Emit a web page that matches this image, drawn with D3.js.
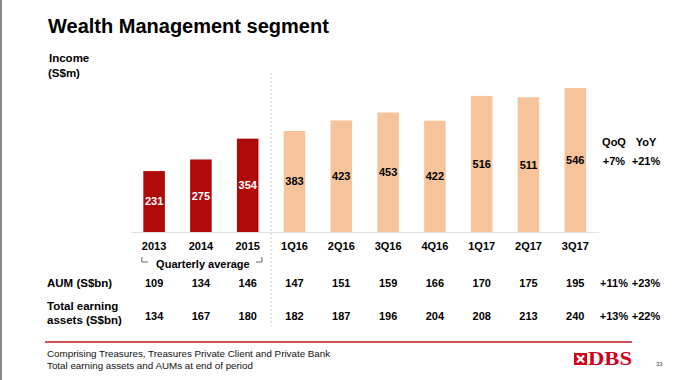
<!DOCTYPE html>
<html><head><meta charset="utf-8">
<script src="https://cdn.jsdelivr.net/npm/d3@7"></script>
<style>
html,body{margin:0;padding:0;background:#fff;}
svg{display:block;font-family:"Liberation Sans",Arial,sans-serif;}
</style></head>
<body>
<svg id="c" width="680" height="380"></svg>
<script>
const categories = ["2013","2014","2015","1Q16","2Q16","3Q16","4Q16","1Q17","2Q17","3Q17"];
const annualCount = 3;
const income = [231,275,354,383,423,453,422,516,511,546];
const aum = [109,134,146,147,151,159,166,170,175,195];
const earningAssets = [134,167,180,182,187,196,204,208,213,240];
const growthHeaders = ["QoQ","YoY"];
const incomeGrowth = ["+7%","+21%"];
const aumGrowth = ["+11%","+23%"];
const assetsGrowth = ["+13%","+22%"];

const svg = d3.select("#c");
const RED = "#AE0A0A", PEACH = "#F6C39A";

// frame edge
svg.append("line").attr("x1",1).attr("x2",1).attr("y1",0).attr("y2",380).attr("stroke","#888").attr("stroke-width",2);

// title
svg.append("text").attr("x",48).attr("y",33).attr("font-size",20).attr("font-weight","bold").attr("fill","#000")
  .text("Wealth Management segment");
svg.append("text").attr("x",49).attr("y",62).attr("font-size",11.5).attr("font-weight","bold").text("Income");
svg.append("text").attr("x",48).attr("y",77).attr("font-size",11.5).attr("font-weight","bold").text("(S$m)");

const x = d3.scaleBand().domain(categories).range([130.7,598.7]).paddingInner(0.54).paddingOuter(0.27);
const y = d3.scaleLinear().domain([0, d3.max(income)]).range([232,88]);

// separator dashed line
const sepX = (x(categories[annualCount-1]) + x.bandwidth() + x(categories[annualCount]))/2;
svg.append("line").attr("x1",sepX).attr("x2",sepX).attr("y1",73).attr("y2",326)
  .attr("stroke","#c8c8c8").attr("stroke-width",1).attr("stroke-dasharray","2,2");

// axis
const ax = svg.append("g").attr("transform","translate(0,232)")
  .call(d3.axisBottom(x).tickSize(0).tickSizeOuter(0).tickPadding(10));
ax.select(".domain").attr("stroke","#e2e2e2");
ax.selectAll("text").attr("font-size",11).attr("font-weight","bold").attr("fill","#000")
  .attr("font-family","'Liberation Sans',Arial,sans-serif");

// bars
svg.selectAll("rect.bar").data(income).join("rect").attr("class","bar")
  .attr("x",(d,i)=>x(categories[i])).attr("width",x.bandwidth())
  .attr("y",d=>y(d)).attr("height",d=>y(0)-y(d))
  .attr("fill",(d,i)=> i<annualCount ? RED : PEACH);

svg.selectAll("text.val").data(income).join("text").attr("class","val")
  .attr("x",(d,i)=>x(categories[i])+x.bandwidth()/2)
  .attr("y",d=>(y(d)+y(0))/2).attr("dy","0.36em")
  .attr("text-anchor","middle").attr("font-size",11).attr("font-weight","bold")
  .attr("fill",(d,i)=> i<annualCount ? "#fff" : "#000").text(d=>d);

// quarterly average bracket
const bx0 = x(categories[0]) - 1.5, bx1 = x(categories[annualCount-1]) + x.bandwidth() + 3.5;
svg.append("path").attr("d",`M${bx0},257V262H${bx0+6}M${bx1-6},262H${bx1}V257`)
  .attr("fill","none").attr("stroke","#666").attr("stroke-width",1);
svg.append("text").attr("x",(bx0+bx1)/2 + 1).attr("y",267.5).attr("text-anchor","middle")
  .attr("font-size",11).attr("font-weight","bold").text("Quarterly average");

// growth columns
const gx = [614,646];
growthHeaders.forEach((t,i)=>svg.append("text").attr("x",gx[i]).attr("y",146).attr("text-anchor","middle")
  .attr("font-size",11).attr("font-weight","bold").text(t));
incomeGrowth.forEach((t,i)=>svg.append("text").attr("x",gx[i]).attr("y",165).attr("text-anchor","middle")
  .attr("font-size",11).attr("font-weight","bold").text(t));

// table rows
svg.append("text").attr("x",47).attr("y",287).attr("font-size",11.5).attr("font-weight","bold").text("AUM (S$bn)");
svg.append("text").attr("x",47).attr("y",309.5).attr("font-size",11.5).attr("font-weight","bold").text("Total earning");
svg.append("text").attr("x",47).attr("y",324).attr("font-size",11.5).attr("font-weight","bold").text("assets (S$bn)");

svg.selectAll("text.aum").data(aum).join("text").attr("class","aum")
  .attr("x",(d,i)=>x(categories[i])+x.bandwidth()/2).attr("y",287)
  .attr("text-anchor","middle").attr("font-size",11).attr("font-weight","bold").text(d=>d);
svg.selectAll("text.tea").data(earningAssets).join("text").attr("class","tea")
  .attr("x",(d,i)=>x(categories[i])+x.bandwidth()/2).attr("y",320)
  .attr("text-anchor","middle").attr("font-size",11).attr("font-weight","bold").text(d=>d);
aumGrowth.forEach((t,i)=>svg.append("text").attr("x",gx[i]).attr("y",287).attr("text-anchor","middle")
  .attr("font-size",11).attr("font-weight","bold").text(t));
assetsGrowth.forEach((t,i)=>svg.append("text").attr("x",gx[i]).attr("y",320).attr("text-anchor","middle")
  .attr("font-size",11).attr("font-weight","bold").text(t));

// footer rule
svg.append("line").attr("x1",45).attr("x2",632).attr("y1",342).attr("y2",342).attr("stroke","#C4161C").attr("stroke-width",1.5);
svg.append("text").attr("x",47).attr("y",357).attr("font-size",9.8).attr("fill","#111")
  .text("Comprising Treasures, Treasures Private Client and Private Bank");
svg.append("text").attr("x",47).attr("y",369).attr("font-size",9.8).attr("fill","#111")
  .text("Total earning assets and AUMs at end of period");

// DBS logo
const lg = svg.append("g").attr("transform","translate(574,353)");
lg.append("rect").attr("width",13).attr("height",12).attr("fill","#D0021B");
lg.append("path").attr("d","M3,2.5L10,9.5M10,2.5L3,9.5").attr("stroke","#fff").attr("stroke-width",2.4);
svg.append("text").attr("x",588).attr("y",365).attr("font-family","'Liberation Serif','Times New Roman',serif")
  .attr("font-size",18.5).attr("font-weight","bold").attr("fill","#D0021B")
  .attr("textLength",44).attr("lengthAdjust","spacingAndGlyphs").text("DBS");
svg.append("text").attr("x",656).attr("y",366).attr("font-size",6).attr("fill","#444").text("33");
</script>
</body></html>
